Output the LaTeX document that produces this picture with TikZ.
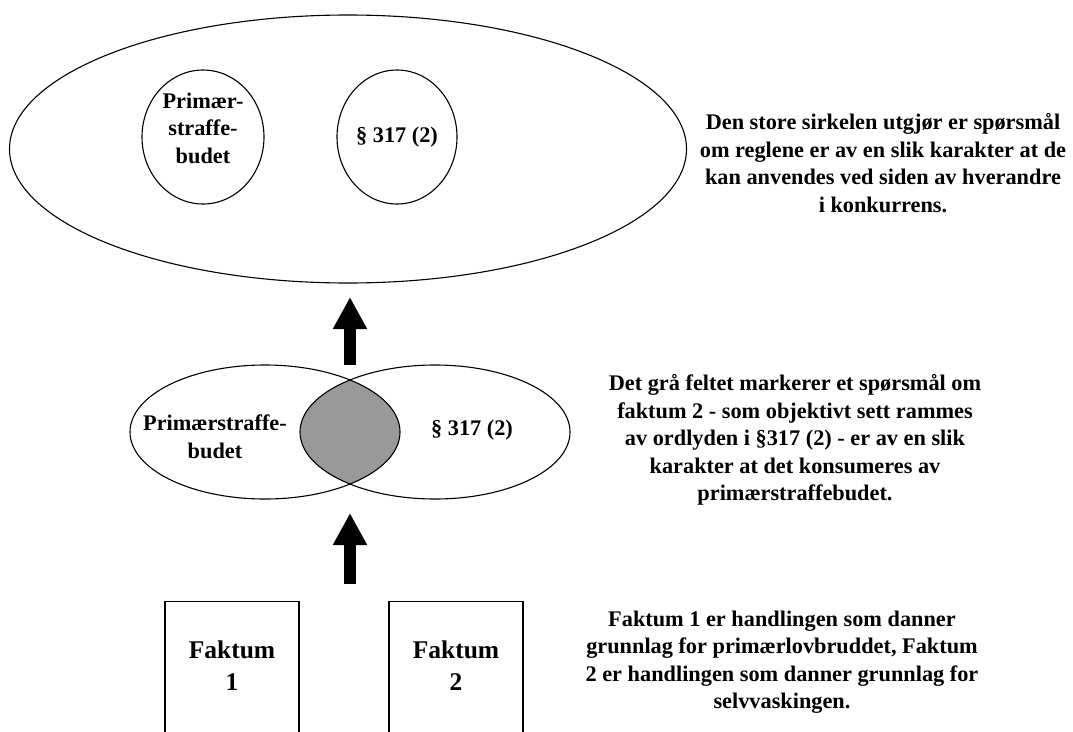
\documentclass[tikz,border=0pt]{standalone}
\usepackage{fontspec}
\setmainfont{Liberation Serif}
\usetikzlibrary{shapes.geometric,arrows.meta}

\tikzset{
  ring/.style={draw, ellipse, line width=1.1pt, inner sep=0pt},
  tekst/.style={font=\bfseries\fontsize{22.3}{27.5}\selectfont, align=center},
  stortekst/.style={font=\bfseries\fontsize{25.5}{32}\selectfont, align=center},
  pil/.style={line width=12pt, -{Triangle[width=32pt,length=32pt]}},
  boks/.style={draw, line width=1.1pt, minimum width=134pt, minimum height=200pt, anchor=north}
}

\begin{document}
\begin{tikzpicture}[x=1pt,y=-1pt]

\clip (0,0) rectangle (1073,731);
\fill[white] (0,0) rectangle (1073,731);

% den store sirkelen
\node[ring, minimum width=677pt, minimum height=268pt] (stor) at (348,149) {};
\node[ring, minimum width=122pt, minimum height=134pt] (prim) at (203,137) {};
\node[ring, minimum width=120pt, minimum height=134pt] (para) at (397,137) {};
\node[tekst] (primtekst) at (203,128) {Primær-\\straffe-\\budet};
\node[tekst] (paratekst) at (397,137) {§ 317 (2)};

% overlappende sirkler
\begin{scope}
	\clip (265,432) ellipse [x radius=135pt, y radius=67pt];
	\fill[black!40] (435,432) ellipse [x radius=135pt, y radius=67pt];
\end{scope}
\node[ring, minimum width=270pt, minimum height=134pt] (venstre) at (265,432) {};
\node[ring, minimum width=270pt, minimum height=134pt] (hoyre) at (435,432) {};
\node[tekst] (venstretekst) at (215,437) {Primærstraffe-\\budet};
\node[tekst] (hoyretekst) at (472,430) {§ 317 (2)};

% piler
\coordinate (pil1fra) at (350,365);
\coordinate (pil1til) at (350,297);
\coordinate (pil2fra) at (350,584);
\coordinate (pil2til) at (350,513);
\draw[pil] (pil1fra) -- (pil1til);
\draw[pil] (pil2fra) -- (pil2til);

% faktum
\foreach \x/\n in {232/1,456/2} {
	\node[boks] (faktum\n) at (\x,601) {};
	\node[stortekst] (faktumtekst\n) at (\x,666) {Faktum\\\n};
}

% forklaringer
\node[tekst] (forklaring1) at (883,163) {Den store sirkelen utgjør er spørsmål\\om reglene er av en slik karakter at de\\kan anvendes ved siden av hverandre\\i konkurrens.};
\node[tekst] (forklaring2) at (795,440) {Det grå feltet markerer et spørsmål om\\faktum 2 - som objektivt sett rammes\\av ordlyden i §317 (2) - er av en slik\\karakter at det konsumeres av\\primærstraffebudet.};
\node[tekst] (forklaring3) at (782,662) {Faktum 1 er handlingen som danner\\grunnlag for primærlovbruddet, Faktum\\2 er handlingen som danner grunnlag for\\selvvaskingen.};

\end{tikzpicture}
\end{document}
